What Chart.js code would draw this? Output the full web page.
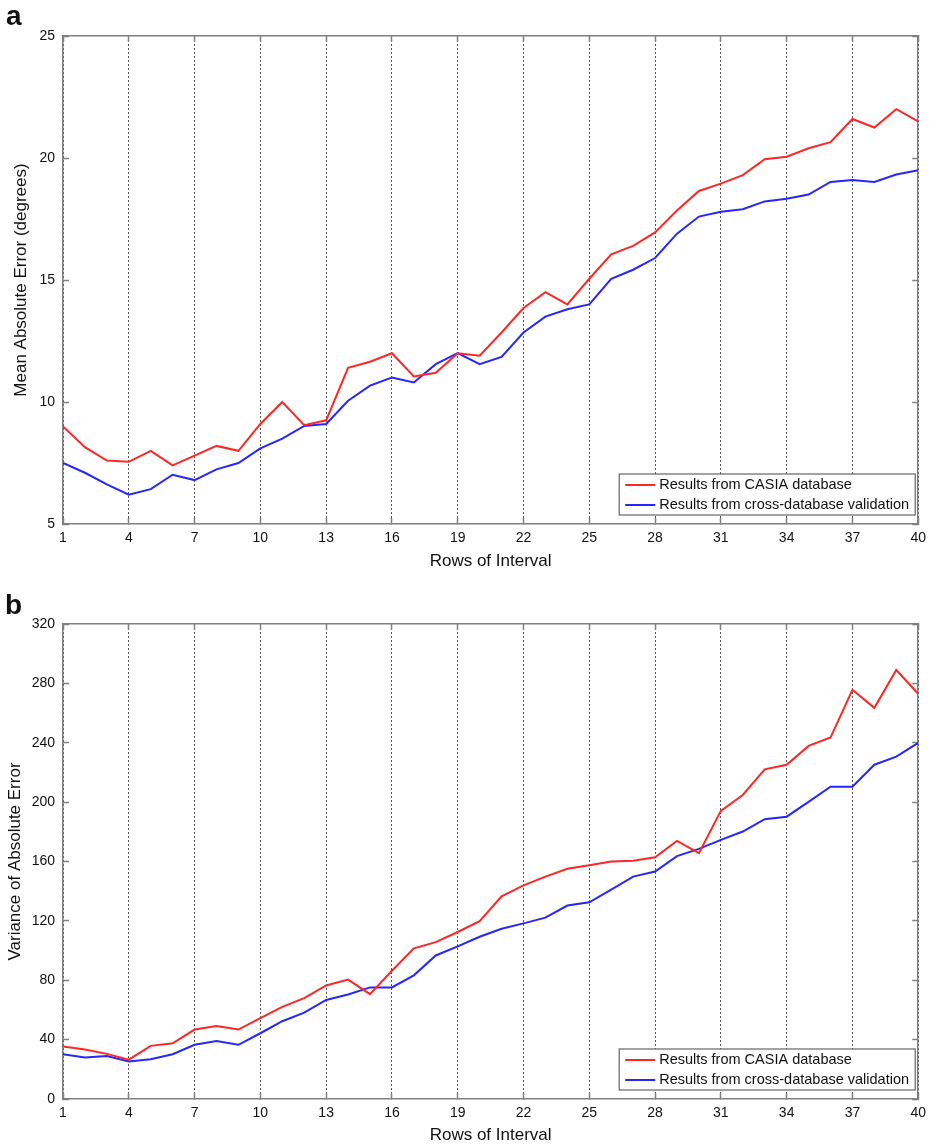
<!DOCTYPE html>
<html>
<head>
<meta charset="utf-8">
<script src="https://cdn.jsdelivr.net/npm/chart.js@4"></script>
<style>
    html, body { margin: 0; padding: 0; background: #fff; }
    #page { position: relative; width: 938px; height: 1146px; overflow: hidden; }
    .panel { position: absolute; left: 0; }
    .tag { position: absolute; font: bold 28px "Liberation Sans", Arial, sans-serif; line-height: 28px; color: #111; }
</style>
</head>
<body>
<div id="page">
    <canvas id="chartMae" class="panel" style="top:0" width="938" height="580"></canvas>
    <canvas id="chartVar" class="panel" style="top:580px" width="938" height="566"></canvas>
    <div class="tag" style="left:6px; top:2px">a</div>
    <div class="tag" style="left:5px; top:591px">b</div>
</div>
<script>
// Dados (rows of interval 1..40)
const rows = [1, 2, 3, 4, 5, 6, 7, 8, 9, 10, 11, 12, 13, 14, 15, 16, 17, 18, 19, 20,
    21, 22, 23, 24, 25, 26, 27, 28, 29, 30, 31, 32, 33, 34, 35, 36, 37, 38, 39, 40];
const xTicks = [1, 4, 7, 10, 13, 16, 19, 22, 25, 28, 31, 34, 37, 40];

const seriesNames = ['Results from CASIA database', 'Results from cross-database validation'];

// (a) Mean Absolute Error
const maeCasia = [9.0, 8.15, 7.6, 7.55, 8.0, 7.4, 7.8, 8.2, 8.0, 9.1,
    10.0, 9.05, 9.25, 11.4, 11.65, 12.0, 11.05, 11.2, 12.0, 11.9,
    12.85, 13.85, 14.5, 14.0, 15.05, 16.05, 16.4, 16.95, 17.85, 18.65,
    18.95, 19.3, 19.95, 20.05, 20.4, 20.65, 21.6, 21.25, 22.0, 21.5];
const maeCross = [7.5, 7.1, 6.62, 6.2, 6.43, 7.02, 6.8, 7.24, 7.5, 8.1,
    8.5, 9.02, 9.1, 10.05, 10.67, 11.0, 10.8, 11.55, 12.0, 11.55,
    11.85, 12.85, 13.5, 13.8, 14.0, 15.05, 15.42, 15.9, 16.9, 17.6,
    17.8, 17.9, 18.22, 18.33, 18.5, 19.02, 19.1, 19.02, 19.32, 19.5];
const maeTicks = [5, 10, 15, 20, 25];

// (b) Variance of Absolute Error
const varCasia = [35.3, 33.4, 30.4, 26.5, 35.8, 37.5, 46.8, 49.2, 46.8, 54.5,
    62.1, 67.9, 76.5, 80.4, 70.6, 86.4, 101.5, 105.7, 112.5, 119.8,
    136.6, 143.9, 149.8, 155.1, 157.5, 160.0, 160.5, 162.9, 173.9, 165.6,
    194.1, 204.8, 222.1, 225.2, 237.9, 243.5, 275.7, 263.5, 289.0, 273.0];
const varCross = [30.2, 28.0, 29.0, 25.3, 26.8, 30.2, 36.5, 39.0, 36.5, 44.3,
    52.4, 58.2, 66.7, 70.4, 75.2, 75.2, 83.3, 96.7, 102.8, 109.3,
    114.7, 118.3, 122.2, 130.3, 132.5, 141.0, 149.8, 153.2, 163.6, 168.5,
    174.6, 180.2, 188.5, 190.2, 200.2, 210.4, 210.4, 225.2, 230.6, 239.9];
const varTicks = [0, 40, 80, 120, 160, 200, 240, 280, 320];

const FAMILY = '"Liberation Sans", Arial, sans-serif';
const TICK_FONT = { family: FAMILY, size: 14 };
const TITLE_FONT = { family: FAMILY, size: 17 };
const FRAME = '#808080';
const TEXT = '#111';

// Legenda em caixa dentro da área do gráfico (estilo MATLAB)
const boxLegend = {
    id: 'boxLegend',
    afterDatasetsDraw(chart) {
        const { ctx, chartArea } = chart;
        const w = 296, h = 41;
        const x = chartArea.right - 3 - w;
        const y = chartArea.bottom - 9 - h;
        ctx.save();
        ctx.fillStyle = '#fff';
        ctx.fillRect(x, y, w, h);
        ctx.strokeStyle = '#666';
        ctx.lineWidth = 1.2;
        ctx.strokeRect(x, y, w, h);
        ctx.font = '14.5px ' + FAMILY;
        ctx.textBaseline = 'middle';
        chart.data.datasets.forEach((ds, i) => {
            const cy = y + 11 + i * 20;
            ctx.strokeStyle = ds.borderColor;
            ctx.lineWidth = 2;
            ctx.beginPath();
            ctx.moveTo(x + 6, cy);
            ctx.lineTo(x + 36, cy);
            ctx.stroke();
            ctx.fillStyle = TEXT;
            ctx.fillText(ds.label, x + 40, cy);
        });
        ctx.restore();
    }
};

function fixedTicks(values) {
    return scale => { scale.ticks = values.map(v => ({ value: v })); };
}

function toPoints(values) {
    return rows.map((r, i) => ({ x: r, y: values[i] }));
}

function renderChart(id, casia, cross, yTicks, yTitle, box) {
    const yMin = yTicks[0], yMax = yTicks[yTicks.length - 1];
    const inwardTicks = { drawOnChartArea: false, tickLength: -6, tickColor: FRAME, tickWidth: 1.5 };
    const frame = { color: FRAME, width: 1.5 };

    new Chart(document.getElementById(id), {
        type: 'line',
        data: {
            datasets: [{
                label: seriesNames[0],
                data: toPoints(casia),
                borderColor: '#ff2626',
                borderWidth: 2,
                pointRadius: 0,
                tension: 0
            }, {
                label: seriesNames[1],
                data: toPoints(cross),
                borderColor: '#2626ff',
                borderWidth: 2,
                pointRadius: 0,
                tension: 0
            }]
        },
        options: {
            responsive: false,
            animation: false,
            layout: { padding: 0 },
            plugins: {
                legend: { display: false },
                tooltip: { enabled: false }
            },
            scales: {
                x: {
                    type: 'linear',
                    position: 'bottom',
                    min: 1, max: 40,
                    afterBuildTicks: fixedTicks(xTicks),
                    afterFit: s => { s.height = box.bottom; },
                    grid: { color: '#555', lineWidth: 1, tickLength: -6, tickColor: FRAME, tickWidth: 1.5 },
                    border: { color: FRAME, width: 1.5, dash: [2, 2] },
                    ticks: { color: TEXT, font: TICK_FONT, padding: 12, maxRotation: 0, autoSkip: false },
                    title: { display: true, text: 'Rows of Interval', color: TEXT, font: TITLE_FONT, padding: { top: 0, bottom: box.xTitlePad } }
                },
                xTop: {
                    type: 'linear',
                    position: 'top',
                    min: 1, max: 40,
                    afterBuildTicks: fixedTicks(xTicks),
                    afterFit: s => { s.height = box.top; },
                    grid: inwardTicks,
                    border: frame,
                    ticks: { display: false }
                },
                y: {
                    type: 'linear',
                    position: 'left',
                    min: yMin, max: yMax,
                    afterBuildTicks: fixedTicks(yTicks),
                    afterFit: s => { s.width = box.left; },
                    grid: inwardTicks,
                    border: frame,
                    ticks: { color: TEXT, font: TICK_FONT, padding: 14 },
                    title: { display: true, text: yTitle, color: TEXT, font: TITLE_FONT, padding: { top: box.yTitlePad, bottom: 0 } }
                },
                yRight: {
                    type: 'linear',
                    position: 'right',
                    min: yMin, max: yMax,
                    afterBuildTicks: fixedTicks(yTicks),
                    afterFit: s => { s.width = box.right; },
                    grid: inwardTicks,
                    border: frame,
                    ticks: { display: false }
                }
            }
        },
        plugins: [boxLegend]
    });
}

renderChart('chartMae', maeCasia, maeCross, maeTicks, 'Mean Absolute Error (degrees)',
    { top: 36, bottom: 56, left: 63, right: 16, xTitlePad: 8.3, yTitlePad: 10.8 });
renderChart('chartVar', varCasia, varCross, varTicks, 'Variance of Absolute Error',
    { top: 44, bottom: 47, left: 63, right: 16, xTitlePad: 0.3, yTitlePad: 4.8 });
</script>
</body>
</html>
